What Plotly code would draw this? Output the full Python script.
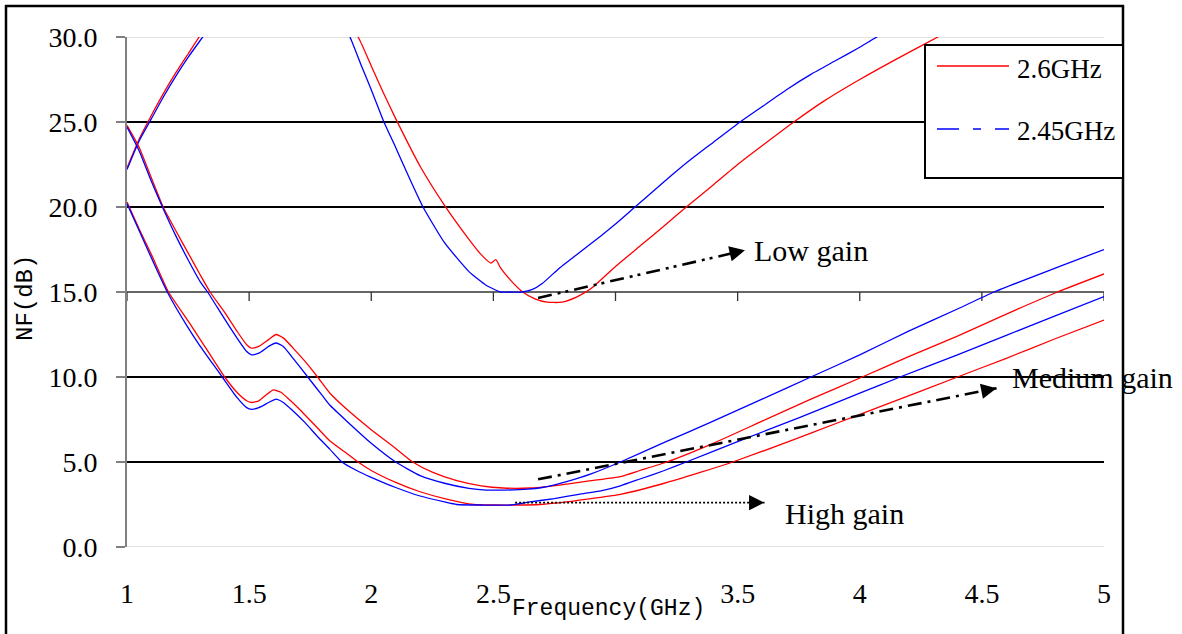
import math
import plotly.graph_objects as go

# ---------------- data ----------------
# Low gain
f_low_26 = [1.00, 1.05, 1.10, 1.15, 1.20, 1.25, 1.30, 1.40, 1.50, 1.60, 1.70, 1.80, 1.90, 1.95, 2.00, 2.05,
            2.10, 2.20, 2.30, 2.40, 2.45, 2.49, 2.51, 2.53, 2.57, 2.62, 2.67, 2.72, 2.78, 2.84, 2.90, 3.00,
            3.10, 3.20, 3.29, 3.40, 3.50, 3.60, 3.73, 3.85, 4.00, 4.15, 4.32, 4.60, 5.00]
nf_low_26 = [22.3, 24.0, 25.4, 26.7, 27.9, 29.0, 30.1, 32.0, 33.5, 34.3, 34.0, 32.8, 30.9, 29.9, 28.3, 26.7,
             25.2, 22.4, 20.1, 18.1, 17.2, 16.7, 16.9, 16.4, 15.7, 15.0, 14.6, 14.4, 14.4, 14.7, 15.2, 16.5,
             17.7, 18.9, 20.0, 21.3, 22.5, 23.6, 25.0, 26.2, 27.5, 28.7, 30.0, 32.0, 34.5]

f_low_245 = [1.00, 1.05, 1.10, 1.15, 1.20, 1.25, 1.31, 1.40, 1.50, 1.60, 1.70, 1.80, 1.87, 1.913, 1.96, 2.00,
             2.052, 2.10, 2.15, 2.212, 2.30, 2.40, 2.47, 2.53, 2.57, 2.62, 2.66, 2.70, 2.77, 2.85, 2.94, 3.00,
             3.08, 3.20, 3.30, 3.40, 3.51, 3.60, 3.70, 3.80, 3.90, 4.00, 4.07, 4.50, 5.00]
nf_low_245 = [22.2, 23.9, 25.2, 26.5, 27.7, 28.8, 30.0, 31.8, 33.2, 34.0, 33.8, 32.5, 31.2, 30.0, 28.3, 26.9,
              25.0, 23.5, 21.9, 20.0, 17.9, 16.2, 15.4, 15.0, 15.0, 15.0, 15.15, 15.5, 16.4, 17.3, 18.3, 19.0,
              20.0, 21.5, 22.7, 23.8, 25.0, 25.9, 26.9, 27.8, 28.6, 29.4, 30.0, 33.2, 36.5]

# Medium gain
f_med_26 = [1.00, 1.05, 1.10, 1.148, 1.20, 1.25, 1.30, 1.34, 1.40, 1.45, 1.49, 1.51, 1.54, 1.58, 1.61, 1.64,
            1.68, 1.73, 1.78, 1.83, 1.90, 2.00, 2.10, 2.17, 2.25, 2.35, 2.45, 2.54, 2.65, 2.72, 2.80, 2.90,
            3.02, 3.10, 3.21, 3.40, 3.60, 3.80, 4.01, 4.20, 4.40, 4.60, 4.81, 5.00]
nf_med_26 = [24.8, 23.5, 21.7, 20.0, 18.6, 17.3, 16.0, 15.0, 13.8, 12.7, 11.9, 11.7, 11.8, 12.2, 12.5, 12.3,
             11.7, 10.9, 10.0, 9.06, 8.1, 6.9, 5.8, 5.0, 4.4, 3.9, 3.6, 3.47, 3.47, 3.55, 3.7, 3.9,
             4.14, 4.5, 5.0, 6.1, 7.4, 8.7, 10.0, 11.2, 12.4, 13.7, 15.0, 16.06]

f_med_245 = [1.00, 1.05, 1.10, 1.145, 1.20, 1.25, 1.30, 1.33, 1.40, 1.45, 1.49, 1.51, 1.54, 1.58, 1.61, 1.64,
             1.68, 1.74, 1.80, 1.83, 1.90, 2.00, 2.10, 2.20, 2.30, 2.40, 2.47, 2.55, 2.64, 2.70, 2.80, 2.90,
             3.02, 3.20, 3.40, 3.60, 3.80, 4.00, 4.20, 4.40, 4.55, 4.80, 5.00]
nf_med_245 = [24.7, 23.3, 21.5, 20.0, 18.3, 16.9, 15.6, 15.0, 13.4, 12.3, 11.5, 11.3, 11.4, 11.8, 12.0, 11.8,
              11.1, 10.0, 8.9, 8.35, 7.4, 6.1, 5.0, 4.2, 3.75, 3.45, 3.35, 3.35, 3.4, 3.5, 3.85, 4.3,
              5.0, 6.15, 7.4, 8.7, 10.0, 11.3, 12.7, 14.0, 15.0, 16.4, 17.5]

# High gain
f_high_26 = [1.00, 1.05, 1.10, 1.17, 1.25, 1.30, 1.35, 1.40, 1.45, 1.49, 1.51, 1.54, 1.57, 1.60, 1.63, 1.67,
             1.72, 1.78, 1.83, 1.90, 1.946, 2.00, 2.10, 2.20, 2.30, 2.42, 2.50, 2.60, 2.69, 2.80, 2.90, 3.02,
             3.20, 3.35, 3.48, 3.70, 3.90, 4.10, 4.40, 4.60, 4.80, 5.00]
nf_high_26 = [20.3, 18.7, 17.2, 15.0, 13.3, 12.2, 11.1, 10.0, 9.1, 8.6, 8.5, 8.6, 8.95, 9.24, 9.1, 8.6,
              7.9, 7.0, 6.25, 5.5, 5.0, 4.5, 3.8, 3.25, 2.85, 2.5, 2.47, 2.47, 2.5, 2.65, 2.85, 3.1,
              3.75, 4.4, 5.0, 6.15, 7.25, 8.35, 10.0, 11.1, 12.25, 13.35]

f_high_245 = [1.00, 1.05, 1.10, 1.165, 1.25, 1.30, 1.35, 1.39, 1.45, 1.49, 1.51, 1.54, 1.58, 1.61, 1.64, 1.68,
              1.73, 1.78, 1.83, 1.88, 1.94, 2.00, 2.10, 2.20, 2.30, 2.35, 2.45, 2.57, 2.65, 2.75, 2.85, 2.94,
              3.02, 3.10, 3.20, 3.29, 3.50, 3.75, 4.00, 4.165, 4.40, 4.60, 4.80, 5.00]
nf_high_245 = [20.2, 18.6, 17.0, 15.0, 12.9, 11.8, 10.8, 10.0, 8.8, 8.2, 8.1, 8.2, 8.5, 8.7, 8.5, 8.0,
               7.3, 6.5, 5.76, 5.0, 4.5, 4.1, 3.5, 3.0, 2.65, 2.5, 2.47, 2.47, 2.65, 2.85, 3.1, 3.3,
               3.6, 4.0, 4.5, 5.0, 6.2, 7.6, 9.05, 10.0, 11.3, 12.45, 13.6, 14.73]

x_ticks = [1, 1.5, 2, 2.5, 3, 3.5, 4, 4.5, 5]
# the "3" label is hidden under the axis title in the reference
x_tick_labels = ["1", "1.5", "2", "2.5", "", "3.5", "4", "4.5", "5"]
y_ticks = [0, 5, 10, 15, 20, 25, 30]
y_tick_labels = ["0.0", "5.0", "10.0", "15.0", "20.0", "25.0", "30.0"]
legend_names = ["2.6GHz", "2.45GHz"]
RED = "#ff0000"
BLUE = "#0000ff"

# ---------------- layout geometry ----------------
W, H = 1182, 634
ML, MR, MT, MB = 127, 78, 37, 87
PW, PH = W - ML - MR, H - MT - MB
XR, YR = [1, 5], [0, 30]


def px(xp):
    return (xp - ML) / PW


def py(yp):
    return (H - MB - yp) / PH


SERIF = "Liberation Serif, Times New Roman, serif"
MONO = "Liberation Mono, monospace"

fig = go.Figure()
series = [
    (f_low_26, nf_low_26, RED), (f_low_245, nf_low_245, BLUE),
    (f_med_26, nf_med_26, RED), (f_med_245, nf_med_245, BLUE),
    (f_high_26, nf_high_26, RED), (f_high_245, nf_high_245, BLUE),
]
for xs, ys, c in series:
    fig.add_trace(go.Scatter(x=xs, y=ys, mode="lines",
                             line=dict(color=c, width=1.3, shape="spline", smoothing=0.5),
                             showlegend=False, hoverinfo="skip"))

shapes = []
# horizontal gridlines
for v in y_ticks:
    if v in (0, 30):
        shapes.append(dict(type="line", xref="x", yref="y", x0=XR[0], x1=XR[1], y0=v, y1=v,
                           line=dict(color="#c8c8c8", width=1.2), layer="below"))
    elif v == 15:
        shapes.append(dict(type="line", xref="x", yref="y", x0=XR[0], x1=XR[1], y0=v, y1=v,
                           line=dict(color="#333333", width=1.3), layer="below"))
    else:
        shapes.append(dict(type="line", xref="x", yref="y", x0=XR[0], x1=XR[1], y0=v, y1=v,
                           line=dict(color="#000000", width=2), layer="below"))
# x axis ticks on the 15 dB crossing line
tick_len = 9 * (YR[1] - YR[0]) / PH
for xv in x_ticks:
    shapes.append(dict(type="line", xref="x", yref="y", x0=xv, x1=xv, y0=15, y1=15 - tick_len,
                       line=dict(color="#333333", width=1.3), layer="below"))

# outer frame of the figure
shapes.append(dict(type="line", xref="paper", yref="paper", x0=px(6), x1=px(6), y0=py(5), y1=py(700),
                   line=dict(color="black", width=2.5)))
shapes.append(dict(type="line", xref="paper", yref="paper", x0=px(5), x1=px(1124), y0=py(6), y1=py(6),
                   line=dict(color="black", width=2.5)))
shapes.append(dict(type="line", xref="paper", yref="paper", x0=px(1123), x1=px(1123), y0=py(5), y1=py(700),
                   line=dict(color="black", width=2.5)))

# legend box
shapes.append(dict(type="rect", xref="paper", yref="paper", x0=px(925), x1=px(1123), y0=py(178), y1=py(45),
                   line=dict(color="black", width=2), fillcolor="white", layer="above"))
shapes.append(dict(type="line", xref="paper", yref="paper", x0=px(937), x1=px(1009), y0=py(66), y1=py(66),
                   line=dict(color=RED, width=1.3)))
shapes.append(dict(type="line", xref="paper", yref="paper", x0=px(937), x1=px(1009), y0=py(129), y1=py(129),
                   line=dict(color=BLUE, width=1.3, dash="22px,14px,8px,14px")))

annotations = []
annotations.append(dict(xref="paper", yref="paper", x=px(1015), y=py(69), text=legend_names[0], showarrow=False,
                        xanchor="left", yanchor="middle", font=dict(family=SERIF, size=27, color="black")))
annotations.append(dict(xref="paper", yref="paper", x=px(1015), y=py(131), text=legend_names[1], showarrow=False,
                        xanchor="left", yanchor="middle", font=dict(family=SERIF, size=27, color="black")))

# arrows (start and tip in data coordinates)
sx = PW / (XR[1] - XR[0])
sy = PH / (YR[1] - YR[0])
arrows = [
    ((2.683, 14.65), (3.53, 17.45), "14px,6px,3px,5px,3px,6px", 2.6),
    ((2.683, 3.98), (4.56, 9.34), "14px,6px,3px,6px", 2.6),
    ((2.589, 2.61), (3.61, 2.61), "2px,2px", 1.6),
]
for (x0, y0), (x1, y1), dash, w in arrows:
    shapes.append(dict(type="line", xref="x", yref="y", x0=x0, y0=y0, x1=x1, y1=y1,
                       line=dict(color="black", width=w, dash=dash)))
    dxp, dyp = (x1 - x0) * sx, (y1 - y0) * sy
    ln = math.hypot(dxp, dyp)
    ux, uy = dxp / ln, dyp / ln
    annotations.append(dict(xref="x", yref="y", x=x1, y=y1, text="", showarrow=True,
                            ax=-ux * 6, ay=uy * 6, axref="pixel", ayref="pixel",
                            arrowhead=2, arrowsize=1.4, arrowwidth=2.2, arrowcolor="black", standoff=0))

labels = [("Low gain", 3.559, 17.47), ("Medium gain", 4.615, 10.0), ("High gain", 3.686, 2.0)]
for t, xv, yv in labels:
    annotations.append(dict(xref="x", yref="y", x=xv, y=yv, text=t, showarrow=False, xanchor="left",
                            yanchor="middle", font=dict(family=SERIF, size=30, color="black")))

# axis titles
annotations.append(dict(xref="paper", yref="paper", x=px(25), y=py(298), text="NF(dB)", showarrow=False,
                        textangle=-90, xanchor="center", yanchor="middle",
                        font=dict(family=MONO, size=24, color="black")))
annotations.append(dict(xref="paper", yref="paper", x=px(608), y=py(609), text="Frequency(GHz)", showarrow=False,
                        xanchor="center", yanchor="middle",
                        font=dict(family=MONO, size=23, color="black")))

fig.update_layout(
    width=W, height=H,
    margin=dict(l=ML, r=MR, t=MT, b=MB, pad=0),
    paper_bgcolor="white", plot_bgcolor="white",
    font=dict(family=SERIF, size=27, color="black"),
    showlegend=False,
    xaxis=dict(range=XR, tickvals=x_ticks, ticktext=x_tick_labels, showgrid=False, zeroline=False,
               showline=False, ticks="", ticklabelstandoff=27,
               tickfont=dict(family=SERIF, size=28, color="black")),
    yaxis=dict(range=YR, tickvals=y_ticks, ticktext=y_tick_labels, showgrid=False, zeroline=False,
               showline=True, linecolor="#808080", linewidth=2, ticks="outside", ticklen=9,
               tickwidth=2, tickcolor="#808080", ticklabelstandoff=13,
               tickfont=dict(family=SERIF, size=28, color="black")),
    shapes=shapes,
    annotations=annotations,
)

fig.write_html("out.html")
